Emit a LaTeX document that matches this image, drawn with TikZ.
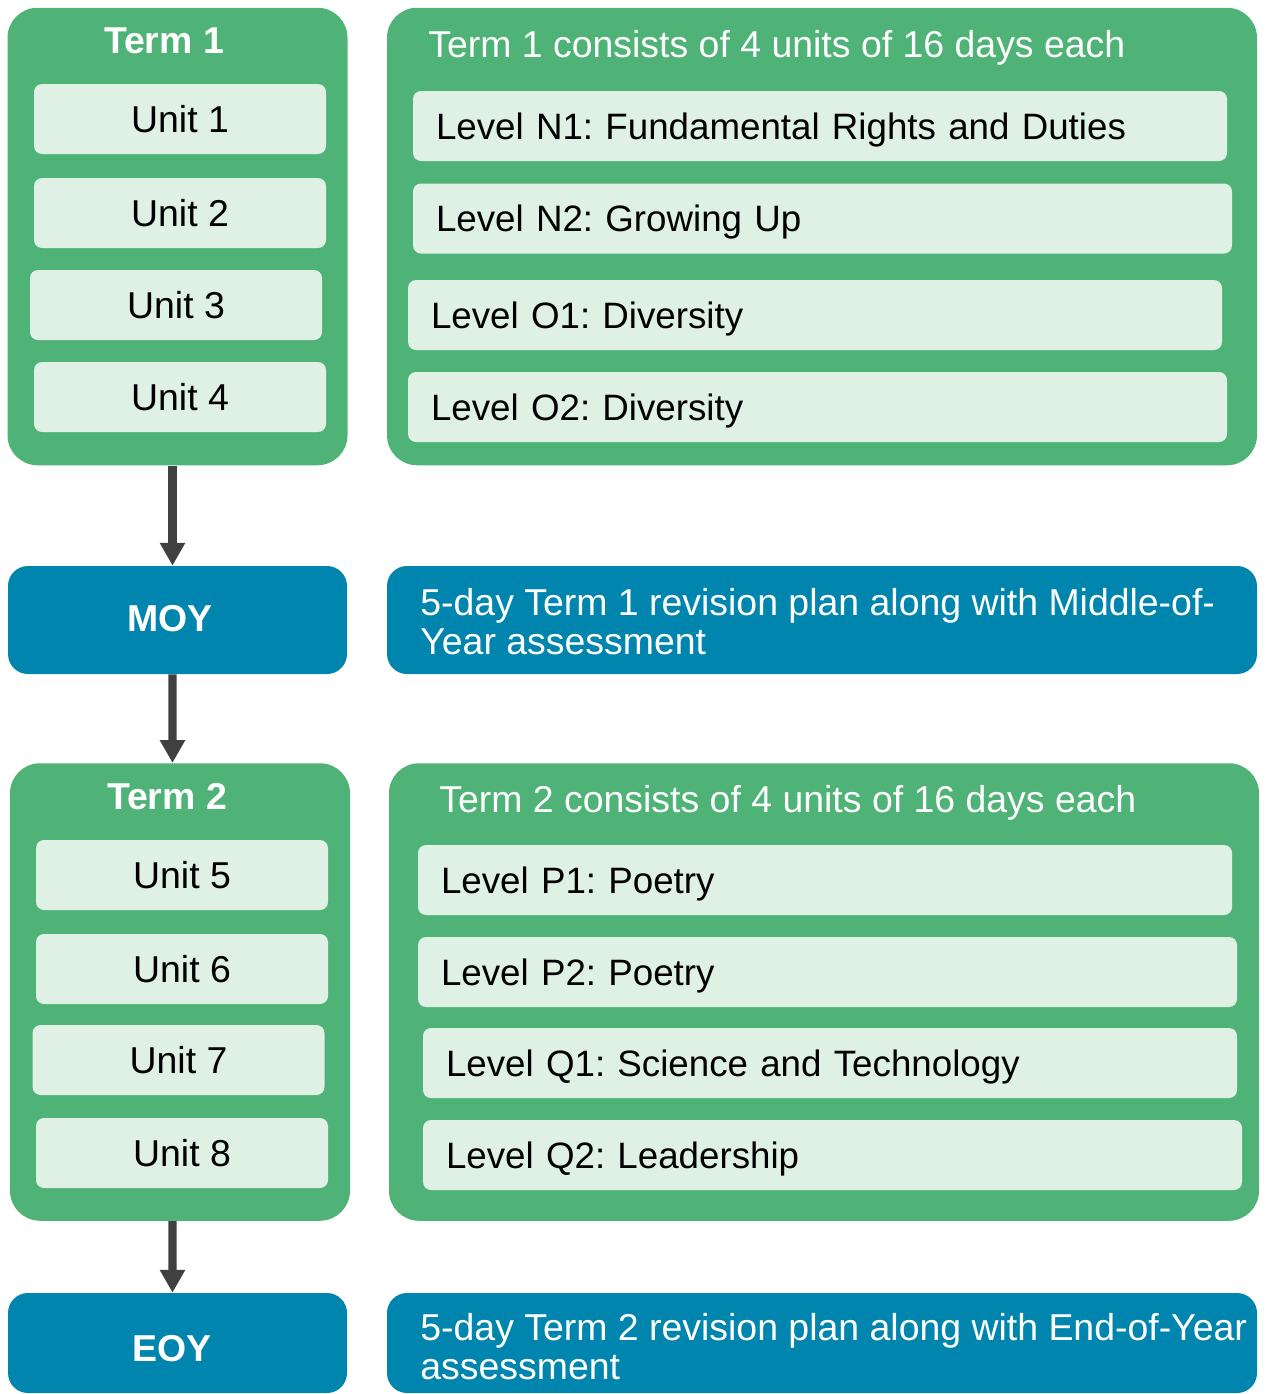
\documentclass[tikz,border=0pt]{standalone}
\usepackage{fontspec}
\setmainfont{Liberation Sans}
\usepackage{xcolor}
\definecolor{planGreen}{HTML}{4FB377}
\definecolor{planLight}{HTML}{DFF0E5}
\definecolor{planBlue}{HTML}{0085AF}
\definecolor{planArrow}{HTML}{404040}
\usetikzlibrary{arrows.meta}
\frenchspacing

\begin{document}
\begin{tikzpicture}[
  every node/.style={font=\fontsize{21.3}{22.2}\selectfont, inner sep=0pt},
  capline/.style={text height=15.25pt, text depth=0pt},
  termbox/.style={rectangle, rounded corners=0.6cm, fill=planGreen, minimum width=6.8cm, minimum height=9.15cm},
  infobox/.style={rectangle, rounded corners=0.6cm, fill=planGreen, minimum width=17.4cm, minimum height=9.15cm},
  stagebox/.style={rectangle, rounded corners=0.4cm, fill=planBlue, minimum width=6.78cm, minimum height=#1},
  revbox/.style={rectangle, rounded corners=0.4cm, fill=planBlue, minimum width=17.4cm, minimum height=#1},
  unitbox/.style={rectangle, rounded corners=0.16cm, fill=planLight, minimum width=5.84cm, minimum height=1.4cm, capline},
  topicbox/.style={rectangle, rounded corners=0.16cm, fill=planLight, minimum height=1.4cm, inner xsep=0.46cm, text width=#1, align=left, font=\fontsize{20.9}{22.2}\selectfont, capline},
  boldtitle/.style={text=white, font=\fontsize{21.3}{22.2}\selectfont\bfseries, capline},
  plaintitle/.style={text=white, anchor=west, capline},
  revtext/.style={text=white, anchor=north west, align=left},
  flowarrow/.style={draw=planArrow, line width=4.6pt, -{Triangle[width=13.7pt, length=13pt]}}
]
  \useasboundingbox (0,0) rectangle (25.38,-27.88);

  % term 1
  \node[termbox] (term1) at (3.55,-4.73) {};
  \node[boldtitle] (term1title) at (3.28,-0.81) {Term 1};
  \node[unitbox] (unit1) at (3.6,-2.38) {Unit 1};
  \node[unitbox] (unit2) at (3.6,-4.26) {Unit 2};
  \node[unitbox] (unit3) at (3.52,-6.1) {Unit 3};
  \node[unitbox] (unit4) at (3.6,-7.94) {Unit 4};

  \node[infobox] (info1) at (16.44,-4.73) {};
  \node[plaintitle] (info1title) at (8.56,-0.88) {Term 1 consists of 4 units of 16 days each};
  \node[topicbox=15.36cm] (levelN1) at (16.4,-2.52) {Level N1: Fundamental Rights and Duties};
  \node[topicbox=15.46cm] (levelN2) at (16.45,-4.37) {Level N2: Growing Up};
  \node[topicbox=15.36cm] (levelO1) at (16.3,-6.3) {Level O1: Diversity};
  \node[topicbox=15.46cm] (levelO2) at (16.35,-8.14) {Level O2: Diversity};

  % middle of year
  \node[stagebox=2.16cm] (moy) at (3.55,-12.4) {};
  \node[boldtitle] (moytitle) at (3.4,-12.36) {MOY};
  \node[revbox=2.16cm] (moyinfo) at (16.44,-12.4) {};
  \node[revtext] (moytext) at (8.4,-11.76) {5-day Term 1 revision plan along with Middle-of-\\Year assessment};

  % term 2
  \node[termbox] (term2) at (3.6,-19.84) {};
  \node[boldtitle] (term2title) at (3.34,-15.93) {Term 2};
  \node[unitbox] (unit5) at (3.64,-17.5) {Unit 5};
  \node[unitbox] (unit6) at (3.64,-19.38) {Unit 6};
  \node[unitbox] (unit7) at (3.57,-21.2) {Unit 7};
  \node[unitbox] (unit8) at (3.64,-23.06) {Unit 8};

  \node[infobox] (info2) at (16.48,-19.84) {};
  \node[plaintitle] (info2title) at (8.78,-15.99) {Term 2 consists of 4 units of 16 days each};
  \node[topicbox=15.36cm] (levelP1) at (16.5,-17.6) {Level P1: Poetry};
  \node[topicbox=15.46cm] (levelP2) at (16.55,-19.44) {Level P2: Poetry};
  \node[topicbox=15.36cm] (levelQ1) at (16.6,-21.26) {Level Q1: Science and Technology};
  \node[topicbox=15.46cm] (levelQ2) at (16.65,-23.1) {Level Q2: Leadership};

  % end of year
  \node[stagebox=2.0cm] (eoy) at (3.55,-26.86) {};
  \node[boldtitle] (eoytitle) at (3.44,-26.97) {EOY};
  \node[revbox=2.0cm] (eoyinfo) at (16.44,-26.86) {};
  \node[revtext] (eoytext) at (8.4,-26.26) {5-day Term 2 revision plan along with End-of-Year\\assessment};

  \draw[flowarrow] ([xshift=-0.1cm]term1.south) -- ([xshift=-0.1cm]moy.north);
  \draw[flowarrow] ([xshift=-0.1cm]moy.south) -- ([xshift=-0.15cm]term2.north);
  \draw[flowarrow] ([xshift=-0.15cm]term2.south) -- ([xshift=-0.1cm]eoy.north);
\end{tikzpicture}
\end{document}
